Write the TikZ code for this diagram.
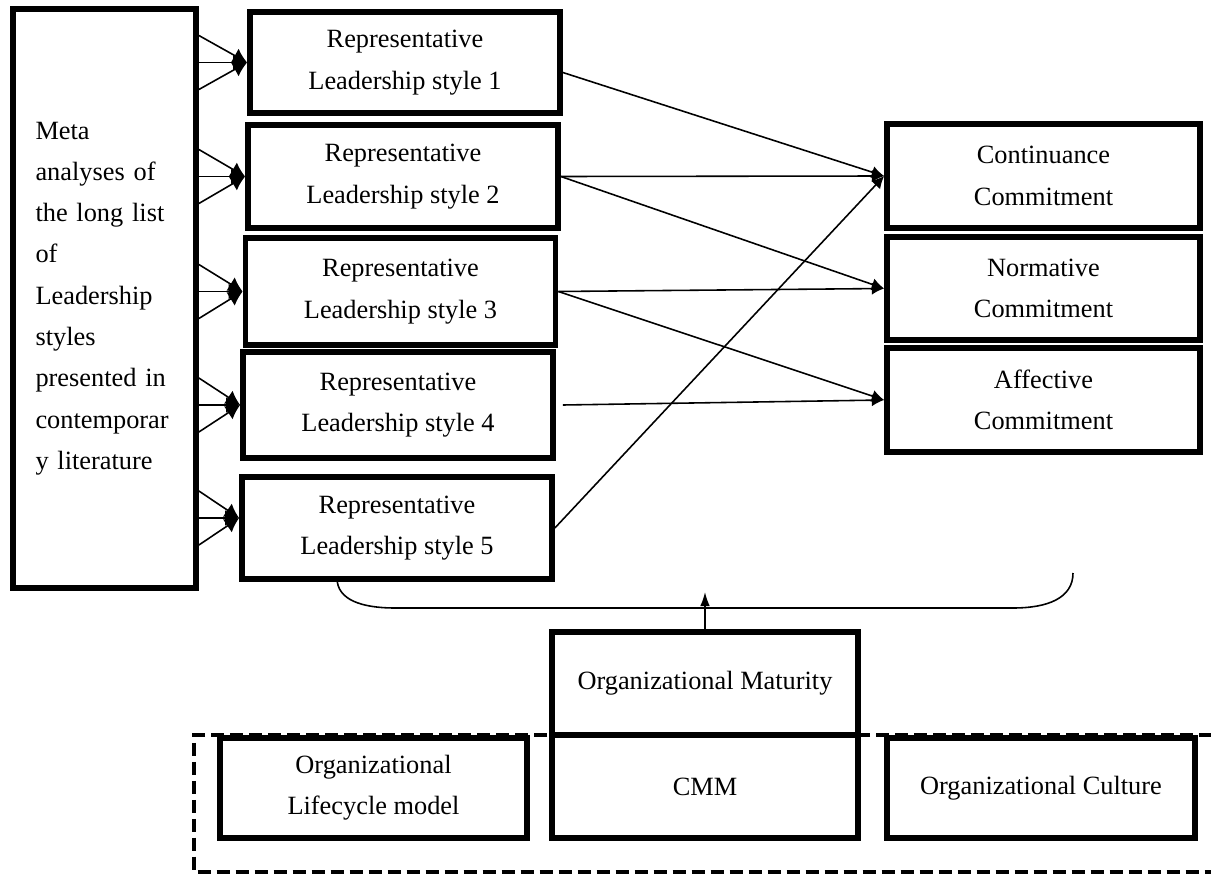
\documentclass[tikz,border=0pt]{standalone}
\usepackage{fontspec}
\setmainfont{Liberation Serif}
\usetikzlibrary{positioning, calc, arrows.meta}

\begin{document}
\begin{tikzpicture}[x=0.02cm, y=-0.02cm,
        box/.style={draw, line width=3.3pt, align=center, inner sep=0pt,
            font=\fontsize{15}{23.5}\selectfont},
        feed/.style={line width=0.9pt, -{Latex[length=8pt, width=9pt]}},
        link/.style={line width=0.9pt, -{Latex[length=7pt, width=7pt]}}]
        % fix the page size
        \useasboundingbox (0,0) rectangle (1211,875);

        % the dashed frame round the bottom row
        \draw [line width=2.3pt, dash pattern=on 0.26cm off 0.12cm]
            (1212,735) -- (194,735) -- (194,872) -- (1212,872);

        % the list of styles
        \node[box, minimum width=3.66cm, minimum height=11.58cm, text width=2.76cm, align=left] (meta) at (104.5,298.5)
            {Meta\\ \makebox[\linewidth][s]{analyses of}\\ \makebox[\linewidth][s]{the long list}\\ of\\
             Leadership\\ styles\\ \makebox[\linewidth][s]{presented in}\\ contemporar\\ y literature};

        % representative styles
        \node[box, minimum width=6.2cm, minimum height=2.02cm] (rep1) at (405,62.5) {Representative\\ Leadership style 1};
        \node[box, minimum width=6.2cm, minimum height=2.06cm] (rep2) at (403,176.5) {Representative\\ Leadership style 2};
        \node[box, minimum width=6.2cm, minimum height=2.14cm] (rep3) at (400.5,291.5) {Representative\\ Leadership style 3};
        \node[box, minimum width=6.2cm, minimum height=2.12cm] (rep4) at (398,405) {Representative\\ Leadership style 4};
        \node[box, minimum width=6.2cm, minimum height=2.04cm] (rep5) at (397,528) {Representative\\ Leadership style 5};

        % commitment
        \node[box, minimum width=6.26cm, minimum height=2.08cm] (cont) at (1043.5,176) {Continuance\\ Commitment};
        \node[box, minimum width=6.26cm, minimum height=2.06cm] (norm) at (1043.5,288.5) {Normative\\ Commitment};
        \node[box, minimum width=6.26cm, minimum height=2.08cm] (aff) at (1043.5,400) {Affective\\ Commitment};

        % maturity and the bottom row
        \node[box, minimum width=6.12cm, minimum height=2.06cm] (mat) at (705,683.5) {Organizational Maturity};
        \node[box, minimum width=6.12cm, minimum height=2.06cm] (cmm) at (705,786.5) {CMM};
        \node[box, minimum width=6.14cm, minimum height=2.0cm] (life) at (373.5,788) {Organizational\\ Lifecycle model};
        \node[box, minimum width=6.16cm, minimum height=2.0cm] (cult) at (1041,788) {Organizational Culture};

        % fans from the list
        \foreach \i/\dy in {1/0, 2/0, 3/0, 4/0, 5/-10} {
            \coordinate (in\i) at ($(rep\i.west)+(0,\dy)$);
            \draw[feed] ($(meta.east |- in\i)+(0,-27)$) -- (in\i);
            \draw[feed] (meta.east |- in\i) -- (in\i);
            \draw[feed] ($(meta.east |- in\i)+(0,27)$) -- (in\i);
        }

        % styles to commitment
        \draw[link] ($(rep1.east)+(0,10)$) -- (cont.west);
        \draw[link] (rep2.east) -- (cont.west);
        \draw[link] (rep2.east) -- (norm.west);
        \draw[link] (rep3.east) -- (norm.west);
        \draw[link] (rep3.east) -- (aff.west);
        \draw[link] ([xshift=4pt]rep4.east) -- (aff.west);
        \draw[link] (rep5.east) -- (cont.west);

        % the brace and the moderator
        \coordinate (bl) at (337,578);
        \coordinate (br) at (1073,573);
        \coordinate (lift) at (705,592);
        \draw[line width=0.9pt] (bl) .. controls (337,600) and (362,608) .. (395,608)
            -- (1013,608) .. controls (1048,608) and (1073,598) .. (br);
        \draw[line width=0.9pt, -{Latex[length=8pt, width=5.5pt]}] (mat.north) -- (lift);
    \end{tikzpicture}
\end{document}
